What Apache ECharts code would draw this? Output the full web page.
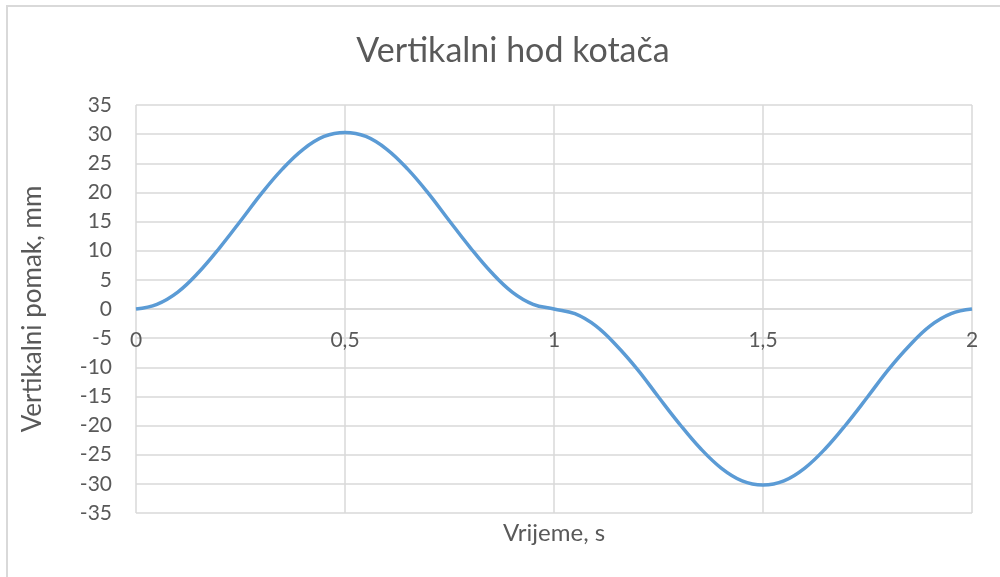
<!DOCTYPE html>
<html>
<head>
<meta charset="utf-8">
<script src="https://cdn.jsdelivr.net/npm/echarts@6/dist/echarts.min.js"></script>
<style>
  html, body { margin: 0; padding: 0; background: #fff; }
  #chart { width: 1000px; height: 577px; }
</style>
</head>
<body>
<div id="chart"></div>
<script>
// Vertical wheel travel over time
const chartTitle = 'Vertikalni hod kotača';
const xAxisName = 'Vrijeme, s';
const yAxisName = 'Vertikalni pomak, mm';

const timeS = [
  0, 0.05, 0.1, 0.15, 0.2, 0.25, 0.3, 0.35, 0.4, 0.45,
  0.5, 0.55, 0.6, 0.65, 0.7, 0.75, 0.8, 0.85, 0.9, 0.95,
  1, 1.05, 1.1, 1.15, 1.2, 1.25, 1.3, 1.35, 1.4, 1.45,
  1.5, 1.55, 1.6, 1.65, 1.7, 1.75, 1.8, 1.85, 1.9, 1.95, 2
];
const displacementMm = [
  0, 0.8, 2.9, 6.3, 10.5, 15.1, 19.8, 24.0, 27.4, 29.6,
  30.3, 29.6, 27.4, 24.0, 19.8, 15.1, 10.5, 6.3, 2.9, 0.8,
  0, -0.8, -2.9, -6.3, -10.4, -15.1, -19.7, -23.9, -27.3, -29.5,
  -30.2, -29.5, -27.3, -23.9, -19.7, -15.1, -10.4, -6.3, -2.9, -0.8, 0
];

const points = timeS.map((t, i) => [t, displacementMm[i]]);

const fontFamily = 'Lato, "Noto Sans", sans-serif';
const textColor = '#595959';
const gridColor = '#d9d9d9';

// plot area geometry; the time axis is drawn through the zero displacement line
const gridTop = 105;
const gridBottom = 64;
const plotHeight = 577 - gridTop - gridBottom;
const zeroLift = plotHeight / 2;

const chart = echarts.init(document.getElementById('chart'));
chart.setOption({
  animation: false,
  backgroundColor: '#ffffff',
  textStyle: { fontFamily: fontFamily },
  graphic: [{
    type: 'rect',
    shape: { x: 7, y: 6, width: 1200, height: 800 },
    style: { fill: 'none', stroke: gridColor, lineWidth: 2 },
    silent: true
  }],
  title: {
    text: chartTitle,
    left: 508,
    textAlign: 'center',
    top: 29,
    textStyle: { fontFamily: fontFamily, fontSize: 34, fontWeight: 'normal', color: textColor }
  },
  grid: { left: 136, right: 28, top: gridTop, bottom: gridBottom, containLabel: false, outerBoundsMode: 'none' },
  xAxis: {
    type: 'value',
    min: 0,
    max: 2,
    interval: 0.5,
    offset: -zeroLift,
    name: xAxisName,
    nameLocation: 'middle',
    nameGap: 212,
    nameTextStyle: { fontFamily: fontFamily, fontSize: 24, color: textColor },
    axisLine: { show: true, onZero: false, lineStyle: { color: gridColor, width: 1.5 } },
    axisTick: { show: false },
    axisLabel: {
      margin: 21,
      fontSize: 21,
      color: textColor,
      fontFamily: fontFamily,
      showMinLabel: true,
      showMaxLabel: true,
      formatter: v => String(v).replace('.', ',')
    },
    splitLine: { show: true, lineStyle: { color: gridColor, width: 1.5 } }
  },
  yAxis: {
    type: 'value',
    min: -35,
    max: 35,
    interval: 5,
    name: yAxisName,
    nameLocation: 'middle',
    nameGap: 90,
    nameRotate: 90,
    nameTextStyle: { fontFamily: fontFamily, fontSize: 26, color: textColor },
    axisLine: { show: false, onZero: false },
    axisTick: { show: false },
    axisLabel: {
      margin: 24, fontSize: 21, color: textColor, fontFamily: fontFamily,
      showMinLabel: true, showMaxLabel: true, hideOverlap: false
    },
    splitLine: { show: true, lineStyle: { color: gridColor, width: 1.5 } }
  },
  series: [{
    type: 'line',
    data: points,
    smooth: 0.4,
    showSymbol: false,
    lineStyle: { color: '#5b9bd5', width: 3.5 },
    itemStyle: { color: '#5b9bd5' }
  }]
});
</script>
</body>
</html>
